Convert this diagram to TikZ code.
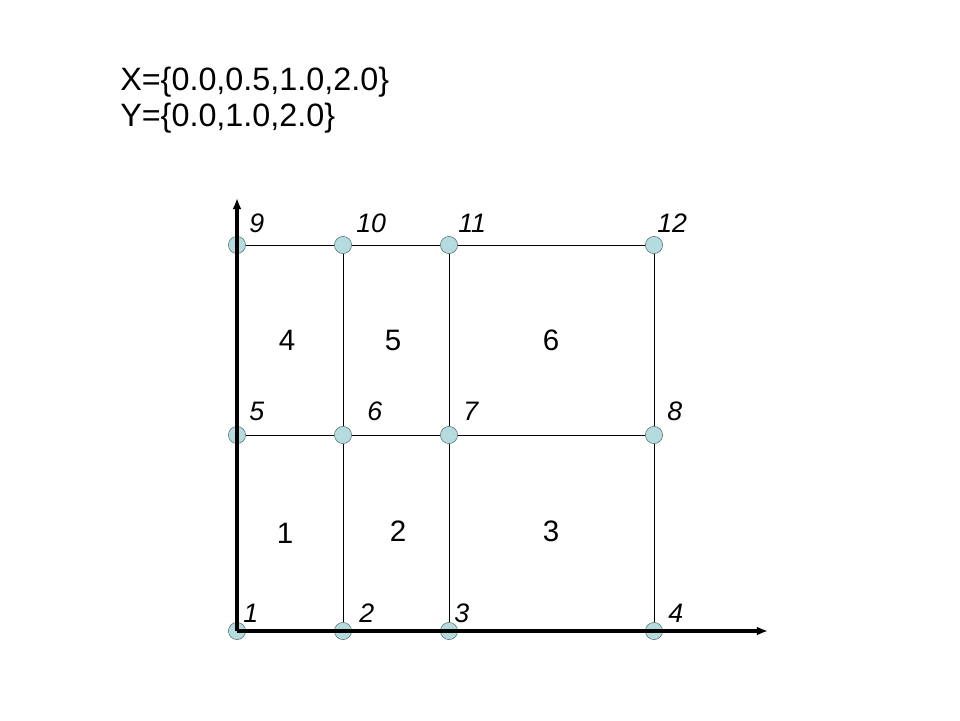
\documentclass[tikz,border=0pt]{standalone}
\usepackage{fontspec}
\setmainfont{Liberation Sans}
\definecolor{nodeFill}{RGB}{180, 220, 222}
\definecolor{nodeEdge}{RGB}{90, 110, 112}
\usetikzlibrary{positioning, arrows.meta}
\tikzset{
  gridnode/.style={circle, draw=nodeEdge, fill=nodeFill, thin,
                   minimum size=0.43cm, inner sep=0pt},
  numlabel/.style={font=\fontsize{19}{22}\selectfont\itshape,
                   inner sep=0pt, anchor=base west},
  elemlabel/.style={font=\fontsize{21}{25}\selectfont,
                    inner sep=0pt, anchor=base},
  gridline/.style={draw=black, line width=0.7pt},
  axisline/.style={draw=black, line width=2.2pt, -{Latex[length=8pt, width=6.5pt]}},
}
\begin{document}
\begin{tikzpicture}[x=1cm, y=1cm]
    \useasboundingbox (0,0) rectangle (24,18);

    % Coordinate sets
    \node[anchor=west, align=left, font=\fontsize{23}{25.5}\selectfont,
          inner sep=0pt] (sets) at (3.0,15.5)
         {X=\{0.0,0.5,1.0,2.0\}\\Y=\{0.0,1.0,2.0\}};

    % Mesh nodes
    \node[gridnode] (n1)  at (5.925,2.225) {};
    \node[gridnode] (n2)  at (8.575,2.225) {};
    \node[gridnode] (n3)  at (11.225,2.225) {};
    \node[gridnode] (n4)  at (16.35,2.225) {};
    \node[gridnode] (n5)  at (5.925,7.125) {};
    \node[gridnode] (n6)  at (8.575,7.125) {};
    \node[gridnode] (n7)  at (11.225,7.125) {};
    \node[gridnode] (n8)  at (16.35,7.125) {};
    \node[gridnode] (n9)  at (5.925,11.875) {};
    \node[gridnode] (n10) at (8.575,11.875) {};
    \node[gridnode] (n11) at (11.225,11.875) {};
    \node[gridnode] (n12) at (16.35,11.875) {};

    % Node numbers
    \node[numlabel] (l1)  at ([xshift=0.15cm, yshift=0.225cm]n1.center)  {1};
    \node[numlabel] (l2)  at ([xshift=0.4cm, yshift=0.225cm]n2.center)   {2};
    \node[numlabel] (l3)  at ([xshift=0.125cm, yshift=0.225cm]n3.center) {3};
    \node[numlabel] (l4)  at ([xshift=0.35cm, yshift=0.225cm]n4.center)  {4};
    \node[numlabel] (l5)  at ([xshift=0.3cm, yshift=0.375cm]n5.center)   {5};
    \node[numlabel] (l6)  at ([xshift=0.6cm, yshift=0.375cm]n6.center)   {6};
    \node[numlabel] (l7)  at ([xshift=0.35cm, yshift=0.375cm]n7.center)  {7};
    \node[numlabel] (l8)  at ([xshift=0.325cm, yshift=0.375cm]n8.center) {8};
    \node[numlabel] (l9)  at ([xshift=0.3cm, yshift=0.325cm]n9.center)   {9};
    \node[numlabel] (l10) at ([xshift=0.325cm, yshift=0.325cm]n10.center) {10};
    \node[numlabel] (l11) at ([xshift=0.225cm, yshift=0.325cm]n11.center) {11};
    \node[numlabel] (l12) at ([xshift=0.075cm, yshift=0.325cm]n12.center) {12};

    % Element numbers
    \node[elemlabel] (e1) at (7.125,4.425) {1};
    \node[elemlabel] (e2) at (9.95,4.475)  {2};
    \node[elemlabel] (e3) at (13.775,4.475) {3};
    \node[elemlabel] (e4) at (7.175,9.25)  {4};
    \node[elemlabel] (e5) at (9.825,9.25)  {5};
    \node[elemlabel] (e6) at (13.775,9.25) {6};

    \coordinate (xend) at (19.2,2.225);
    \coordinate (yend) at (5.925,13.05);

    % Mesh lines (behind the nodes)
    \draw[gridline] (n5) -- (n6) -- (n7) -- (n8);
    \draw[gridline] (n9) -- (n10) -- (n11) -- (n12);
    \draw[gridline] (n2) -- (n6) -- (n10);
    \draw[gridline] (n3) -- (n7) -- (n11);
    \draw[gridline] (n4) -- (n8) -- (n12);

    % Axes (over the nodes)
    \draw[axisline] (n1.center) -- (xend);
    \draw[axisline] (n1.center) -- (yend);
\end{tikzpicture}
\end{document}
